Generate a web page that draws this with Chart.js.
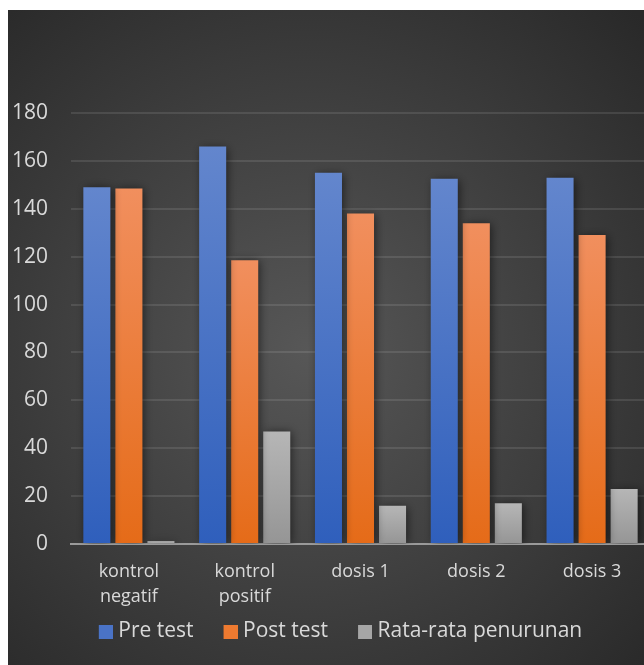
<!DOCTYPE html>
<html>
<head>
<meta charset="utf-8">
<script src="https://cdn.jsdelivr.net/npm/chart.js@4"></script>
<style>
    html, body { margin: 0; padding: 0; background: #ffffff; overflow: hidden; }
    #wrap { position: absolute; left: 8px; top: 10px; width: 642px; height: 655px; }
</style>
</head>
<body>
<div id="wrap"><canvas id="barChart"></canvas></div>
<script>
// chart data
const categories = [['kontrol', 'negatif'], ['kontrol', 'positif'], 'dosis 1', 'dosis 2', 'dosis 3'];
const preTest = [149, 166, 155, 152.5, 153];
const postTest = [148.5, 118.5, 138, 134, 129];
const penurunan = [1.2, 47, 16, 17, 23];
const yTicks = [0, 20, 40, 60, 80, 100, 120, 140, 160, 180];

const legendColors = ['#4a73c6', '#ee7a30', '#a6a6a6'];
const LEGEND_BOX = 14;
const MARKER_WIDTH = 24;   // legend slot for the marker (pointStyleWidth)
const MARKER_IMG = 34;     // marker image, square drawn at its right end

function barGradient(top, bottom) {
    return (context) => {
        const chart = context.chart;
        if (!chart.chartArea || context.type !== 'data') return bottom;
        const y = chart.scales.y;
        const y0 = y.getPixelForValue(0);
        const y1 = y.getPixelForValue(context.raw);
        if (!isFinite(y1) || Math.abs(y0 - y1) < 1) return top;
        const g = chart.ctx.createLinearGradient(0, y1, 0, y0);
        g.addColorStop(0, top);
        g.addColorStop(1, bottom);
        return g;
    };
}

// legend marker: transparent strip with the square at the right end
function legendMarker(color) {
    const c = document.createElement('canvas');
    c.width = MARKER_IMG;
    c.height = LEGEND_BOX;
    const ctx = c.getContext('2d');
    ctx.fillStyle = color;
    ctx.fillRect(MARKER_IMG - LEGEND_BOX, 0, LEGEND_BOX, LEGEND_BOX);
    return c;
}

const panelBackground = {
    id: 'panelBackground',
    beforeDraw(chart) {
        const { ctx, width, height } = chart;
        ctx.save();
        const cx = 300, cy = 340;
        const g = ctx.createRadialGradient(cx, cy, 0, cx, cy, 470);
        g.addColorStop(0, '#575757');
        g.addColorStop(1, '#292929');
        ctx.fillStyle = g;
        ctx.fillRect(0, 0, width, height);
        ctx.restore();
    }
};

const barShadow = {
    id: 'barShadow',
    beforeDatasetsDraw(chart) {
        const ctx = chart.ctx;
        ctx.save();
        ctx.shadowColor = 'rgba(0, 0, 0, 0.55)';
        ctx.shadowBlur = 9;
        ctx.shadowOffsetX = 2;
        ctx.shadowOffsetY = 1;
    },
    afterDatasetsDraw(chart) {
        chart.ctx.restore();
    }
};

new Chart(document.getElementById('barChart').getContext('2d'), {
    type: 'bar',
    data: {
        labels: categories,
        datasets: [
            { label: 'Pre test', data: preTest, backgroundColor: barGradient('#6386cd', '#2f5fbc') },
            { label: 'Post test', data: postTest, backgroundColor: barGradient('#f18f5e', '#e56b18') },
            { label: 'Rata-rata penurunan', data: penurunan, backgroundColor: barGradient('#b6b6b6', '#959595') }
        ]
    },
    options: {
        responsive: true,
        maintainAspectRatio: false,
        animation: false,
        layout: { padding: { left: 0, right: -8, top: 103, bottom: 13 } },
        datasets: {
            bar: { categoryPercentage: 0.83, barPercentage: 0.844 }
        },
        plugins: {
            tooltip: { enabled: false },
            legend: {
                position: 'bottom',
                labels: {
                    color: '#d9d9d9',
                    font: { family: 'Open Sans', size: 21 },
                    usePointStyle: true,
                    pointStyleWidth: MARKER_WIDTH,
                    boxHeight: LEGEND_BOX,
                    padding: 15,
                    generateLabels: (chart) => chart.data.datasets.map((ds, i) => ({
                        text: ds.label,
                        fillStyle: legendColors[i],
                        strokeStyle: legendColors[i],
                        lineWidth: 0,
                        pointStyle: legendMarker(legendColors[i]),
                        fontColor: '#d9d9d9',
                        datasetIndex: i
                    }))
                }
            }
        },
        scales: {
            x: {
                afterFit: (scale) => { scale.height = 62; },
                grid: { display: false },
                border: { display: true, color: '#9a9a9a', width: 2 },
                ticks: {
                    color: '#d9d9d9',
                    font: { family: 'Open Sans', size: 18, lineHeight: 1.39 },
                    padding: 7,
                    maxRotation: 0
                }
            },
            y: {
                min: 0,
                max: 180,
                afterBuildTicks: (scale) => { scale.ticks = yTicks.map(v => ({ value: v })); },
                afterFit: (scale) => { scale.width = 63; },
                grid: { color: 'rgba(255, 255, 255, 0.1)', lineWidth: 2, drawTicks: false },
                border: { display: false },
                ticks: {
                    color: '#d9d9d9',
                    font: { family: 'Open Sans', size: 21 },
                    padding: 23
                }
            }
        }
    },
    plugins: [panelBackground, barShadow]
});
</script>
</body>
</html>
